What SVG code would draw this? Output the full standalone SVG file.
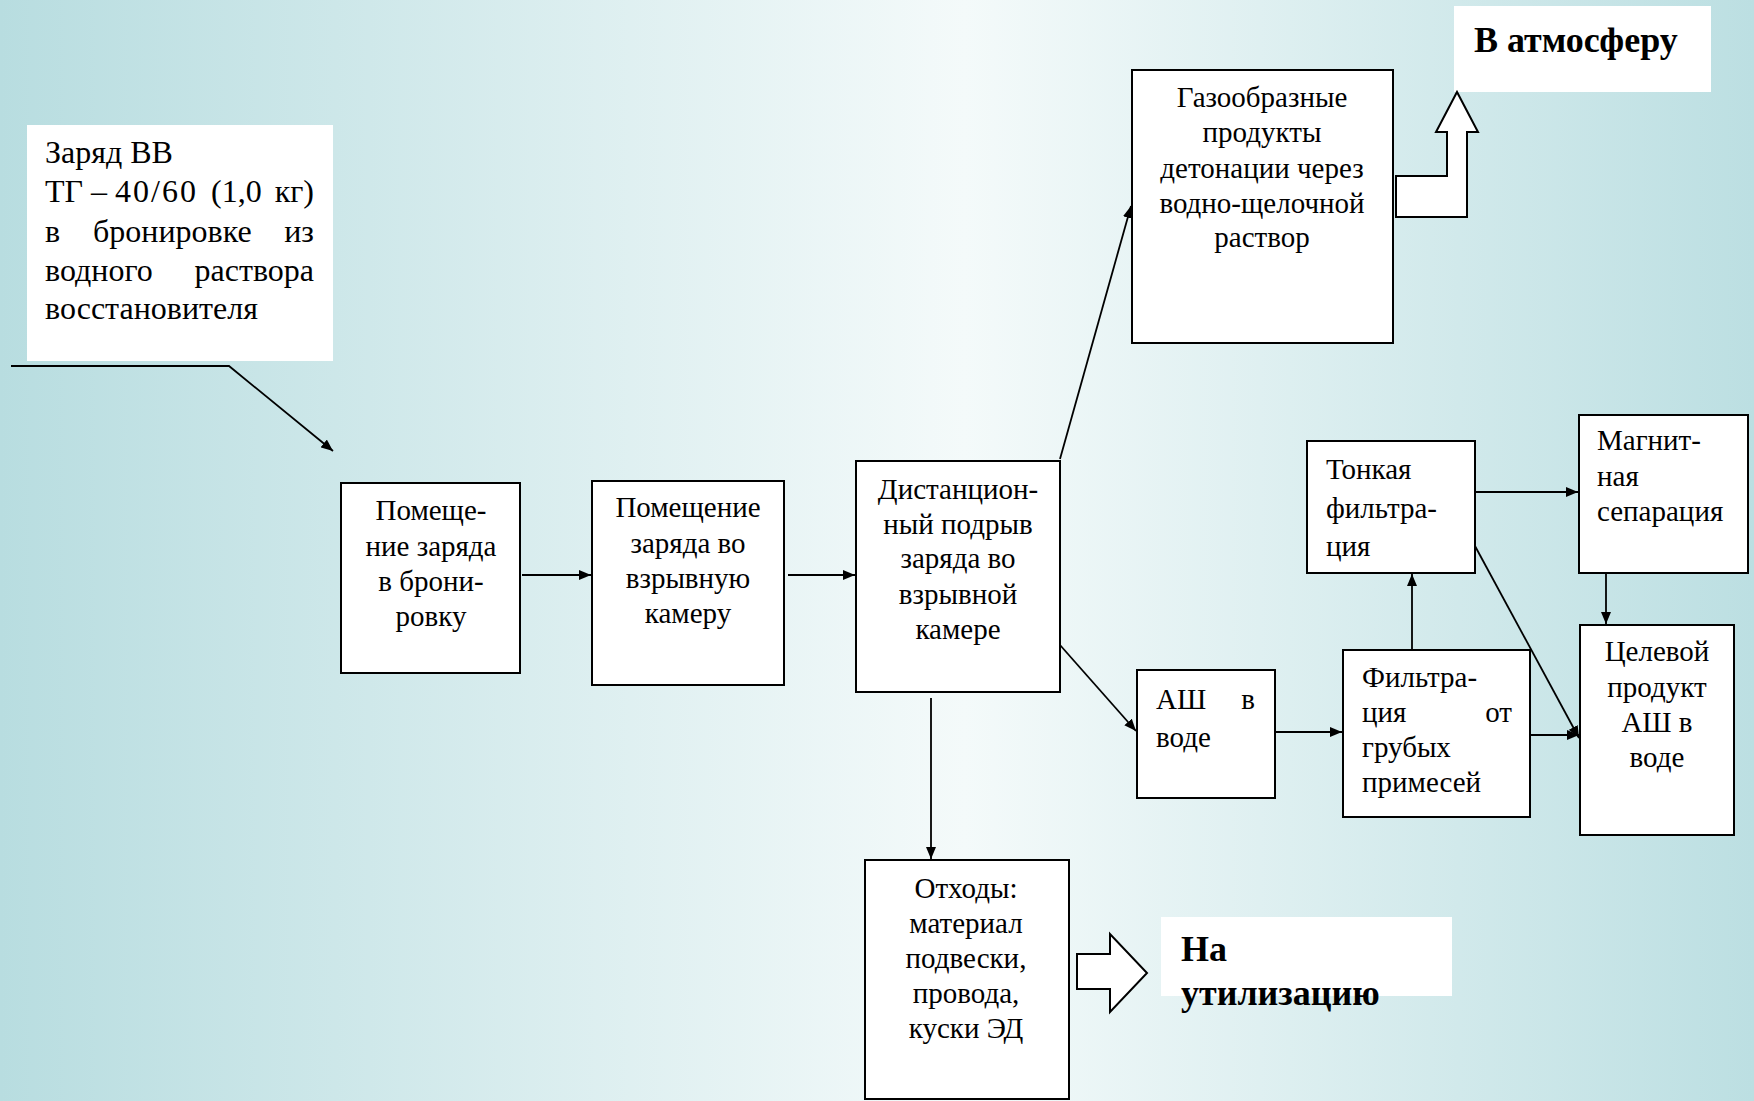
<svg xmlns="http://www.w3.org/2000/svg" width="1754" height="1101" viewBox="0 0 1754 1101">
<defs>
<linearGradient id="bg" x1="0" y1="0" x2="1" y2="0">
<stop offset="0" stop-color="#b8dde0"/>
<stop offset="0.55" stop-color="#f4fafa"/>
<stop offset="1" stop-color="#bcdfe2"/>
</linearGradient>
<marker id="ah" viewBox="0 0 12 10" refX="12" refY="5" markerWidth="12" markerHeight="10" markerUnits="userSpaceOnUse" orient="auto">
<path d="M0,0 L12,5 L0,10 Z" fill="#000"/>
</marker>
<style>
.box{fill:#fff;stroke:#000;stroke-width:2}
.wbox{fill:#fff;stroke:none}
.t{font-family:"Liberation Serif","Times New Roman",serif;font-size:29px;fill:#000}
.tl{font-family:"Liberation Serif","Times New Roman",serif;font-size:32px;fill:#000}
.tb{font-family:"Liberation Serif","Times New Roman",serif;font-size:36px;font-weight:bold;fill:#000}
.c{text-anchor:middle}
.e{text-anchor:end}
.ln{fill:none;stroke:#000;stroke-width:1.8}
.blk{fill:#fff;stroke:#000;stroke-width:2}
</style>
</defs>
<rect x="0" y="0" width="1754" height="1101" fill="url(#bg)"/>

<g id="input">
<rect class="wbox" x="27" y="125" width="306" height="236"/>
<text class="tl" x="45" y="163">Заряд ВВ</text>
<text class="tl" x="45" y="202">ТГ</text>
<text class="tl" x="91" y="202">–</text>
<text class="tl" x="115" y="202" textLength="81" lengthAdjust="spacing">40/60</text>
<text class="tl" x="211" y="202">(1,0</text>
<text class="tl e" x="314" y="202">кг)</text>
<text class="tl" x="45" y="242">в</text>
<text class="tl" x="93" y="242">бронировке</text>
<text class="tl e" x="314" y="242">из</text>
<text class="tl" x="45" y="281">водного</text>
<text class="tl e" x="314" y="281">раствора</text>
<text class="tl" x="45" y="319">восстановителя</text>
</g>

<g id="n1">
<rect class="box" x="341" y="483" width="179" height="190"/>
<text class="t c" x="431" y="520">Помеще-</text>
<text class="t c" x="431" y="556">ние заряда</text>
<text class="t c" x="431" y="591">в брони-</text>
<text class="t c" x="431" y="626">ровку</text>
</g>

<g id="n2">
<rect class="box" x="592" y="481" width="192" height="204"/>
<text class="t c" x="688" y="517">Помещение</text>
<text class="t c" x="688" y="553">заряда во</text>
<text class="t c" x="688" y="588">взрывную</text>
<text class="t c" x="688" y="623">камеру</text>
</g>

<g id="n3">
<rect class="box" x="856" y="461" width="204" height="231"/>
<text class="t c" x="958" y="499">Дистанцион-</text>
<text class="t c" x="958" y="534">ный подрыв</text>
<text class="t c" x="958" y="568">заряда во</text>
<text class="t c" x="958" y="604">взрывной</text>
<text class="t c" x="958" y="639">камере</text>
</g>

<g id="gas">
<rect class="box" x="1132" y="70" width="261" height="273"/>
<text class="t c" x="1262" y="107">Газообразные</text>
<text class="t c" x="1262" y="142">продукты</text>
<text class="t c" x="1262" y="178">детонации через</text>
<text class="t c" x="1262" y="213">водно-щелочной</text>
<text class="t c" x="1262" y="247">раствор</text>
</g>

<g id="atm">
<rect class="wbox" x="1454" y="6" width="257" height="86"/>
<text class="tb" x="1474" y="52">В атмосферу</text>
</g>

<g id="ash">
<rect class="box" x="1137" y="670" width="138" height="128"/>
<text class="t" x="1156" y="709">АШ</text>
<text class="t e" x="1255" y="709">в</text>
<text class="t" x="1156" y="747">воде</text>
</g>

<g id="filt">
<rect class="box" x="1343" y="650" width="187" height="167"/>
<text class="t" x="1362" y="687">Фильтра-</text>
<text class="t" x="1362" y="722">ция</text>
<text class="t e" x="1512" y="722">от</text>
<text class="t" x="1362" y="757">грубых</text>
<text class="t" x="1362" y="792">примесей</text>
</g>

<g id="fine">
<rect class="box" x="1307" y="441" width="168" height="132"/>
<text class="t" x="1326" y="479">Тонкая</text>
<text class="t" x="1326" y="518">фильтра-</text>
<text class="t" x="1326" y="556">ция</text>
</g>

<g id="magn">
<rect class="box" x="1579" y="415" width="169" height="158"/>
<text class="t" x="1597" y="450">Магнит-</text>
<text class="t" x="1597" y="486">ная</text>
<text class="t" x="1597" y="521">сепарация</text>
</g>

<g id="target">
<rect class="box" x="1580" y="625" width="154" height="210"/>
<text class="t c" x="1657" y="661">Целевой</text>
<text class="t c" x="1657" y="697">продукт</text>
<text class="t c" x="1657" y="732">АШ в</text>
<text class="t c" x="1657" y="767">воде</text>
</g>

<g id="waste">
<rect class="box" x="865" y="860" width="204" height="239"/>
<text class="t c" x="966" y="898">Отходы:</text>
<text class="t c" x="966" y="933">материал</text>
<text class="t c" x="966" y="968">подвески,</text>
<text class="t c" x="966" y="1003">провода,</text>
<text class="t c" x="966" y="1038">куски ЭД</text>
</g>

<g id="util">
<rect class="wbox" x="1161" y="917" width="291" height="79"/>
<text class="tb" x="1181" y="961">На</text>
<text class="tb" x="1181" y="1005">утилизацию</text>
</g>

<g id="connectors">
<polyline class="ln" points="11,366 229,366 333,451" marker-end="url(#ah)"/>
<line class="ln" x1="522" y1="575" x2="591" y2="575" marker-end="url(#ah)"/>
<line class="ln" x1="788" y1="575" x2="855" y2="575" marker-end="url(#ah)"/>
<line class="ln" x1="1060" y1="459" x2="1131" y2="206" marker-end="url(#ah)"/>
<line class="ln" x1="1060" y1="645" x2="1136" y2="731" marker-end="url(#ah)"/>
<line class="ln" x1="931" y1="698" x2="931" y2="859" marker-end="url(#ah)"/>
<line class="ln" x1="1275" y1="732" x2="1342" y2="732" marker-end="url(#ah)"/>
<line class="ln" x1="1412" y1="649" x2="1412" y2="574" marker-end="url(#ah)"/>
<line class="ln" x1="1475" y1="492" x2="1578" y2="492" marker-end="url(#ah)"/>
<line class="ln" x1="1606" y1="573" x2="1606" y2="624" marker-end="url(#ah)"/>
<line class="ln" x1="1530" y1="735" x2="1579" y2="735" marker-end="url(#ah)"/>
<line class="ln" x1="1475" y1="546" x2="1579" y2="738" marker-end="url(#ah)"/>
<polygon class="blk" points="1396,176 1447,176 1447,132 1436,132 1457,92 1478,132 1467,132 1467,217 1396,217"/>
<polygon class="blk" points="1077,954 1110,954 1110,934 1147,973 1110,1012 1110,989 1077,989"/>
</g>
</svg>
